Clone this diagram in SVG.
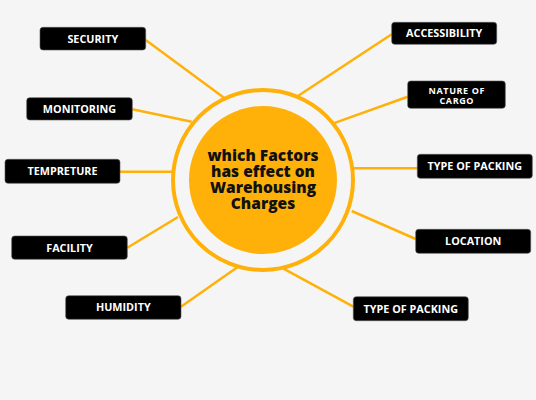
<svg xmlns="http://www.w3.org/2000/svg" width="536" height="400" viewBox="0 0 536 400">
<style>
.box{fill:#000;stroke:#555;stroke-width:0.6}
.lbl{font-family:"Open Sans","Liberation Sans",sans-serif;font-weight:700;font-size:10.8px;fill:#fff;text-anchor:middle}
.sm{font-size:9px;letter-spacing:0.6px}
.con{stroke:#FFB10A;stroke-width:2.5;fill:none}
.ctr{font-family:"Open Sans","Liberation Sans",sans-serif;font-weight:800;font-size:15.5px;fill:#111;text-anchor:middle}
</style>
<rect width="536" height="400" fill="#f5f5f5"/>
<g id="connectors">
<line class="con" x1="145.7" y1="40" x2="224" y2="97.7"/>
<line class="con" x1="132.3" y1="109.3" x2="191.7" y2="121.7"/>
<line class="con" x1="120" y1="171.7" x2="172" y2="171.7"/>
<line class="con" x1="127.3" y1="247.7" x2="178" y2="217"/>
<line class="con" x1="181" y1="306.7" x2="237.3" y2="267.3"/>
<line class="con" x1="391.7" y1="34.3" x2="297.9" y2="96"/>
<line class="con" x1="407.7" y1="96.7" x2="334.1" y2="123.1"/>
<line class="con" x1="417.3" y1="168.3" x2="354" y2="168.3"/>
<line class="con" x1="415.7" y1="239" x2="351.7" y2="211"/>
<line class="con" x1="353.3" y1="306.7" x2="283.5" y2="268.7"/>
</g>
<g id="center">
<circle cx="263" cy="180" r="90" fill="none" stroke="#FFB10A" stroke-width="4"/>
<circle cx="263" cy="180" r="74" fill="#FFB10A"/>
<text class="ctr" x="263" y="161">which Factors</text>
<text class="ctr" x="263" y="177">has effect on</text>
<text class="ctr" x="263" y="192.5">Warehousing</text>
<text class="ctr" x="263" y="208.5">Charges</text>
</g>
<g id="security"><rect class="box" x="40" y="27.3" width="105.7" height="22.7" rx="3"/><text class="lbl" x="92.8" y="42.6">SECURITY</text></g>
<g id="monitoring"><rect class="box" x="26.7" y="97.7" width="105.6" height="22.3" rx="3"/><text class="lbl" x="79.5" y="112.8">MONITORING</text></g>
<g id="tempreture"><rect class="box" x="5" y="159.3" width="115" height="24" rx="3"/><text class="lbl" x="62.5" y="175.2">TEMPRETURE</text></g>
<g id="facility"><rect class="box" x="11.7" y="236" width="115.6" height="23.3" rx="3"/><text class="lbl" x="69.5" y="251.6">FACILITY</text></g>
<g id="humidity"><rect class="box" x="65.7" y="295.7" width="115.3" height="23.6" rx="3"/><text class="lbl" x="123.3" y="311.4">HUMIDITY</text></g>
<g id="accessibility"><rect class="box" x="391.7" y="22.3" width="105" height="22" rx="3"/><text class="lbl" x="444.2" y="37.3">ACCESSIBILITY</text></g>
<g id="nature-of-cargo"><rect class="box" x="407.7" y="81" width="97.6" height="27.3" rx="3"/><text class="lbl sm" x="456.8" y="94.3">NATURE OF</text><text class="lbl sm" x="456.8" y="103.7">CARGO</text></g>
<g id="type-of-packing-1"><rect class="box" x="417.3" y="154.3" width="115" height="24" rx="3"/><text class="lbl" x="474.8" y="170.2">TYPE OF PACKING</text></g>
<g id="location"><rect class="box" x="415.7" y="229.3" width="115" height="24" rx="3"/><text class="lbl" x="473.2" y="245.2">LOCATION</text></g>
<g id="type-of-packing-2"><rect class="box" x="353.3" y="296.7" width="115" height="24" rx="3"/><text class="lbl" x="410.8" y="312.6">TYPE OF PACKING</text></g>
</svg>
